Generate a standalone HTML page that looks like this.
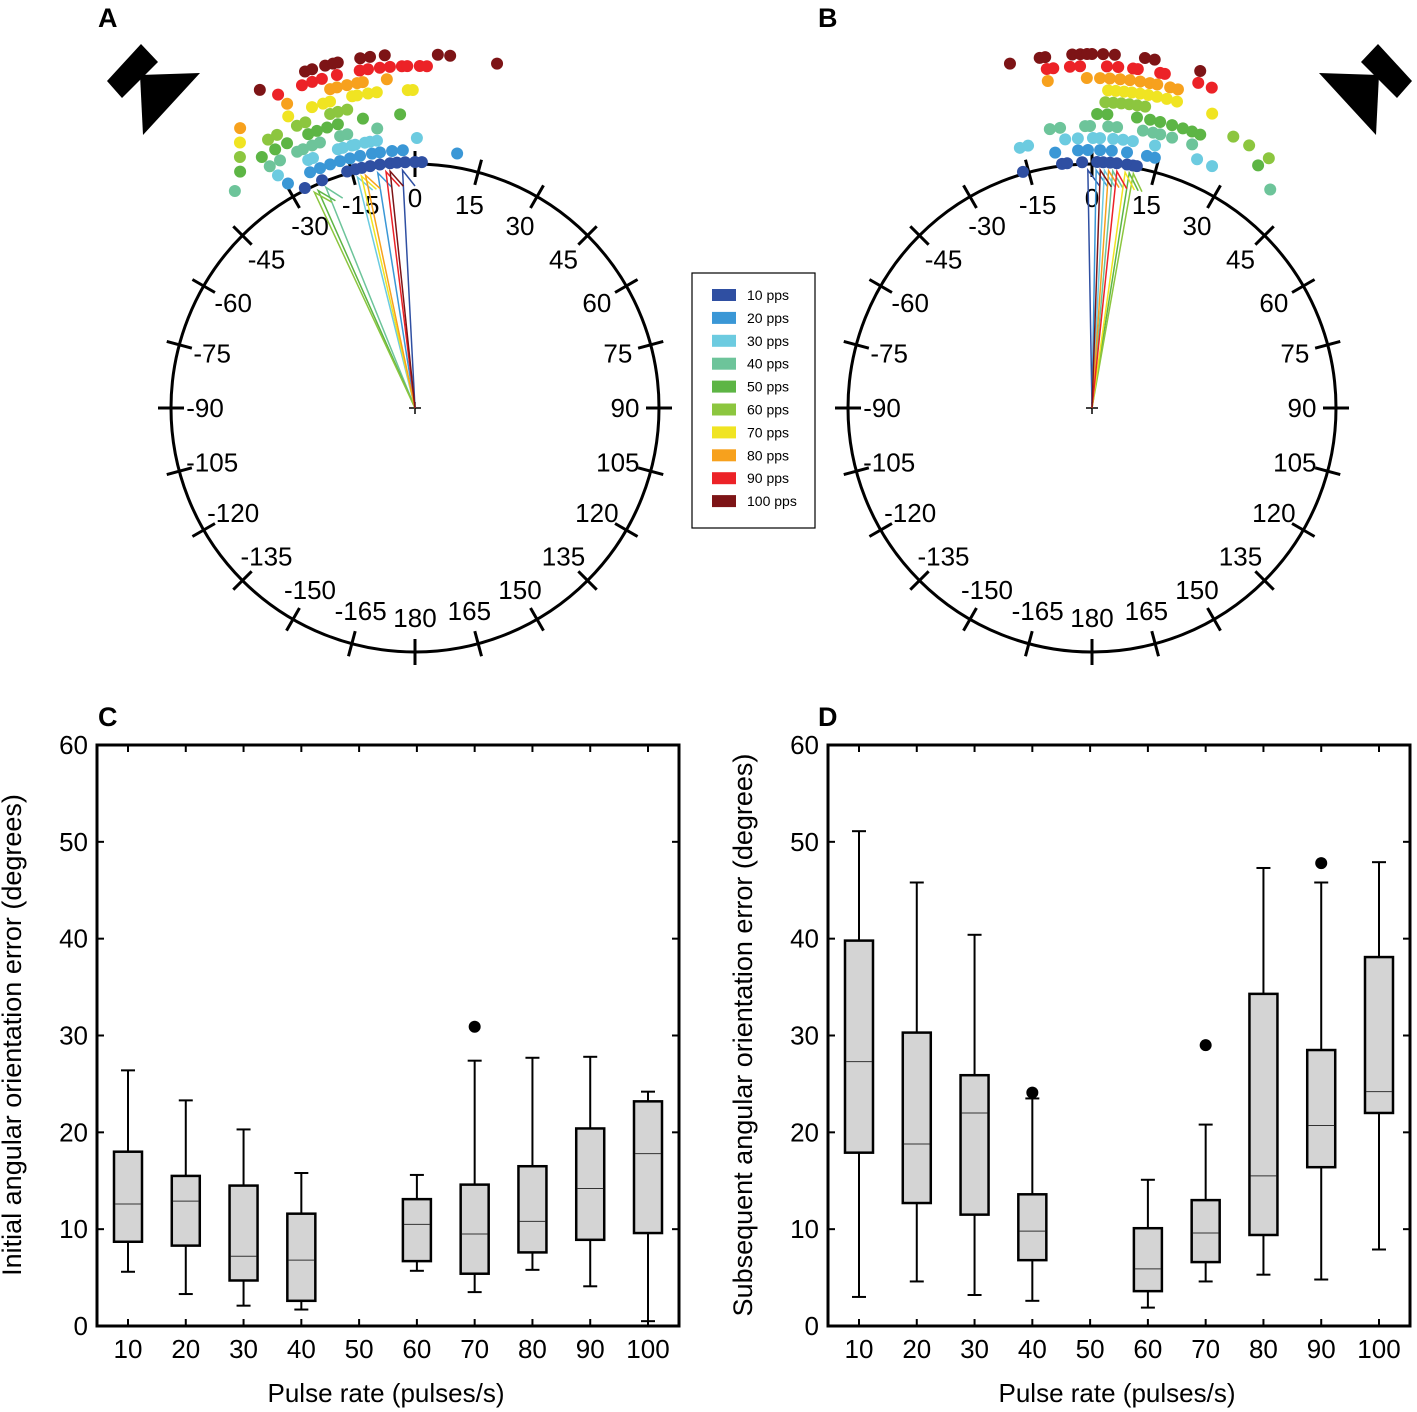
<!DOCTYPE html>
<html><head><meta charset="utf-8">
<style>
html,body{margin:0;padding:0;background:#fff;}
svg{display:block;font-family:"Liberation Sans",Arial,sans-serif;}
</style></head>
<body>
<svg id="fig" width="1417" height="1412" viewBox="0 0 1417 1412" xmlns="http://www.w3.org/2000/svg">
<text x="98" y="27" font-size="27" font-weight="bold">A</text>
<text x="818" y="27" font-size="27" font-weight="bold">B</text>
<text x="98" y="726" font-size="27" font-weight="bold">C</text>
<text x="818" y="726" font-size="27" font-weight="bold">D</text>
<g>
<polygon points="141,44 158,62 122,98 107,81" fill="#000"/>
<polygon points="140,75 200,73 143,135" fill="#000"/>
</g>
<g>
<polygon points="1378,44 1361,62 1397,98 1412,81" fill="#000"/>
<polygon points="1379,75 1319,73 1376,135" fill="#000"/>
</g>
<g id="polarA"></g>
<g id="polarB"></g>
<g id="legend"></g>
<g id="boxC"></g>
<g id="boxD"></g>
</svg>
<script>
// ---- polar data (angles in degrees per pulse rate) ----
const rates = ["10 pps","20 pps","30 pps","40 pps","50 pps","60 pps","70 pps","80 pps","90 pps","100 pps"];
const colors = ["#2f4fa2","#3a97d6","#6ccbe0","#6dc49a","#5db545","#8cc63f","#f0e422","#f7a11d","#ec2227","#7d1416"];
const angA_10 = [-26.6,-22.2,-16,-14,-12.5,-10.5,-8.2,-5.8,-4.2,-2.3,0,1.6];
const angA_20 = [-29.5,-24,-21.6,-19.2,-16.9,-14.6,-12.3,-9.6,-7.8,-5.1,-2.7,9.4];
const angA_30 = [-30.5,-23.3,-22.2,-16.6,-15.5,-13.5,-12.8,-10.7,-9.6,-8.1,0.4];
const angA_40 = [-39.7,-31,-28.6,-24.7,-23.4,-21.4,-19.7,-15.4,-13.9,-7.7];
const angA_50 = [-36.5,-31.4,-28.4,-25.8,-21.3,-19.5,-17.4,-15.2,-10.2,-2.9];
const angA_60 = [-34.9,-28.7,-26.8,-22.7,-21,-16.1,-14.6,-12.8];
const angA_70 = [-33.4,-23.5,-18.9,-16.8,-15.5,-11.4,-10.5,-8.5,-6.9,-1.3,-0.4];
const angA_80 = [-32,-22.8,-14.9,-13.7,-11.9,-10.1,-9.1,-4.9];
const angA_90 = [-23.6,-19.3,-17.5,-15.8,-13.2,-9.3,-7.9,-5.9,-4.2,-2.2,-1.3,0.8,2];
const angA_100 = [-26,-18.1,-16.9,-14.7,-13.4,-12.6,-8.9,-7.3,-4.9,3.7,5.7,13.4];
const meanA = [-3,-9,-14,-22,-24,-25,-13,-12,-7,-6];
const angB_10 = [-16.3,-7,-5.8,-2.3,1.2,2.6,4.2,5.8,8.2,9.6,10.5];
const angB_20 = [-8.2,-3.1,-0.9,1.8,4.4,7.8,12.3,14.1];
const angB_30 = [-15.5,-13.7,-5.7,-3,0.2,1.7,4.5,6.6,8.7,13.5,22.9,26.4];
const angB_40 = [-8.6,-6.5,-1.4,-0.4,3.3,5.1,10.4,12.5,14,16.5,20.8,39.2];
const angB_50 = [1,3,8.8,11.4,13.4,15.8,18,19.9,21.6,34.4];
const angB_60 = [2.5,4,5.5,7,8.5,10,27.5,30.9,35.3];
const angB_70 = [2.9,4.3,5.8,7.2,8.7,10.2,11.8,13.6,15.5,22.2];
const angB_80 = [-7.7,-0.9,1.4,3.1,4.9,6.6,8.4,10.1,11.4,13.7,15.1];
const angB_90 = [-7.6,-6.5,-3.7,-2,2.5,4.4,6.9,7.7,11.5,12.3,18.1,20.5];
const angB_100 = [-13.4,-8.5,-7.6,-3.2,-1.9,-0.8,0,1.8,3.7,8.6,10.2,17.8];
const meanB = [-1,1,3,5,9,10,8,4,6,2];
const tickAngles = [0,15,30,45,60,75,90,105,120,135,150,165,180,-165,-150,-135,-120,-105,-90,-75,-60,-45,-30,-15];

const NS="http://www.w3.org/2000/svg";
function mk(tag, attrs, parent){const e=document.createElementNS(NS,tag);for(const k in attrs)e.setAttribute(k,attrs[k]);parent.appendChild(e);return e;}

function polar(gid, cx, cy, angs, means){
  const g=document.getElementById(gid);
  const R=244;
  const pt=(a,r)=>[cx+r*Math.sin(a*Math.PI/180), cy-r*Math.cos(a*Math.PI/180)];
  const c=mk('circle',{cx:cx,cy:cy,r:R,fill:'none',stroke:'#000','stroke-width':3},g);
  
  
  tickAngles.forEach(a=>{
    const p1=pt(a,R-13),p2=pt(a,R+13);
    const t=mk('line',{x1:p1[0],y1:p1[1],x2:p2[0],y2:p2[1],stroke:'#000','stroke-width':3},g);
    
    
    const lp=pt(a,210);
    const tx=mk('text',{x:lp[0],y:lp[1]+9,'font-size':26,'text-anchor':'middle'},g);
    tx.textContent=String(a);
    
    
  });
  const cr=mk('path',{d:`M${cx-6},${cy}H${cx+6}M${cx},${cy-6}V${cy+6}`,stroke:'#000','stroke-width':1.5},g);
  
  
  means.forEach((m,i)=>{
    const p=pt(m,238), q=pt(m+3,222);
    const l=mk('polyline',{points:`${cx},${cy} ${p[0]},${p[1]} ${q[0]},${q[1]}`,fill:'none',stroke:colors[i],'stroke-width':1.5},g);
    
    
  });
  angs.forEach((arr,i)=>{
    const r=246+12*i;
    arr.forEach(a=>{
      const p=pt(a,r);
      const d=mk('circle',{cx:p[0],cy:p[1],r:6,fill:colors[i]},g);
      
      
    });
  });
}
polar('polarA',415,408,[angA_10,angA_20,angA_30,angA_40,angA_50,angA_60,angA_70,angA_80,angA_90,angA_100],meanA);
polar('polarB',1092,408,[angB_10,angB_20,angB_30,angB_40,angB_50,angB_60,angB_70,angB_80,angB_90,angB_100],meanB);

// legend
(function(){
  const g=document.getElementById('legend');
  const b=mk('rect',{x:692,y:273,width:123,height:255,fill:'#fff',stroke:'#000','stroke-width':1.2},g);
  
  
  rates.forEach((r,i)=>{
    const y=295+i*22.9;
    const s=mk('rect',{x:712,y:y-6,width:24,height:12,fill:colors[i]},g);
    
    
    const t=mk('text',{x:747,y:y+5,'font-size':14},g);
    t.textContent=r;
    
    
  });
})();

// ---- box plot data ----
const boxCats = [10,20,30,40,50,60,70,80,90,100];
const yTicks = [0,10,20,30,40,50,60];
// [lowWhisker, q1, median, q3, highWhisker] ; null = no data
const statsC = [[5.6,8.7,12.6,18,26.4],[3.3,8.3,12.9,15.5,23.3],[2.1,4.7,7.2,14.5,20.3],[1.7,2.6,6.8,11.6,15.8],null,[5.7,6.7,10.5,13.1,15.6],[3.5,5.4,9.5,14.6,27.4],[5.8,7.6,10.8,16.5,27.7],[4.1,8.9,14.2,20.4,27.8],[0.5,9.6,17.8,23.2,24.2]];
const outC = [[],[],[],[],[],[],[30.9],[],[],[]];
const statsD = [[3,17.9,27.3,39.8,51.1],[4.6,12.7,18.8,30.3,45.8],[3.2,11.5,22,25.9,40.4],[2.6,6.8,9.8,13.6,23.5],null,[1.9,3.6,5.9,10.1,15.1],[4.6,6.6,9.6,13,20.8],[5.3,9.4,15.5,34.3,47.3],[4.8,16.4,20.7,28.5,45.8],[7.9,22,24.2,38.1,47.9]];
const outD = [[],[],[],[24.1],[],[],[29],[],[47.8],[]];

function boxplot(gid, x0, x1, stats, outs, ylabel){
  const g=document.getElementById(gid);
  const y0=745, yb=1326;
  const ys=v=>yb-(yb-y0)*v/60;
  const xs=c=>x0+31+(c-10)/90*(x1-x0-62);
  const f=mk('rect',{x:x0,y:y0,width:x1-x0,height:yb-y0,fill:'none',stroke:'#000','stroke-width':3},g);
  
  
  yTicks.forEach(v=>{
    const y=ys(v);
    mk('line',{x1:x0,y1:y,x2:x0+7,y2:y,stroke:'#000','stroke-width':2},g);
    mk('line',{x1:x1-7,y1:y,x2:x1,y2:y,stroke:'#000','stroke-width':2},g);
    const t=mk('text',{x:x0-9,y:y+9,'font-size':26,'text-anchor':'end'},g);
    t.textContent=v;
    
    
  });
  boxCats.forEach((c,i)=>{
    const x=xs(c);
    mk('line',{x1:x,y1:yb,x2:x,y2:yb-7,stroke:'#000','stroke-width':2},g);
    mk('line',{x1:x,y1:y0,x2:x,y2:y0+7,stroke:'#000','stroke-width':2},g);
    const t=mk('text',{x:x,y:yb+32,'font-size':26,'text-anchor':'middle'},g);
    t.textContent=c;
    
    
    const s=stats[i];
    if(s){
      const bg=mk('g',{},g);
      
      
      mk('line',{x1:x,y1:ys(s[0]),x2:x,y2:ys(s[4]),stroke:'#000','stroke-width':2},bg);
      mk('line',{x1:x-7,y1:ys(s[0]),x2:x+7,y2:ys(s[0]),stroke:'#000','stroke-width':2},bg);
      mk('line',{x1:x-7,y1:ys(s[4]),x2:x+7,y2:ys(s[4]),stroke:'#000','stroke-width':2},bg);
      mk('rect',{x:x-14,y:ys(s[3]),width:28,height:ys(s[1])-ys(s[3]),fill:'#d4d4d4',stroke:'#000','stroke-width':2.5},bg);
      mk('line',{x1:x-13,y1:ys(s[2]),x2:x+13,y2:ys(s[2]),stroke:'#333','stroke-width':1},bg);
    }
    outs[i].forEach(o=>{
      const d=mk('circle',{cx:x,cy:ys(o),r:6,fill:'#000'},g);
      
      
    });
  });
  const xl=mk('text',{x:(x0+x1)/2-2,y:1402,'font-size':26,'text-anchor':'middle'},g);
  xl.textContent='Pulse rate (pulses/s)';
  
  
  const lx=x0-76;
  const yl=mk('text',{x:lx,y:1035,'font-size':27,'text-anchor':'middle',transform:`rotate(-90 ${lx} 1035)`},g);
  yl.textContent=ylabel;
  
  
}
boxplot('boxC',97,679,statsC,outC,'Initial angular orientation error (degrees)');
boxplot('boxD',828,1410,statsD,outD,'Subsequent angular orientation error (degrees)');
</script>
</body></html>
